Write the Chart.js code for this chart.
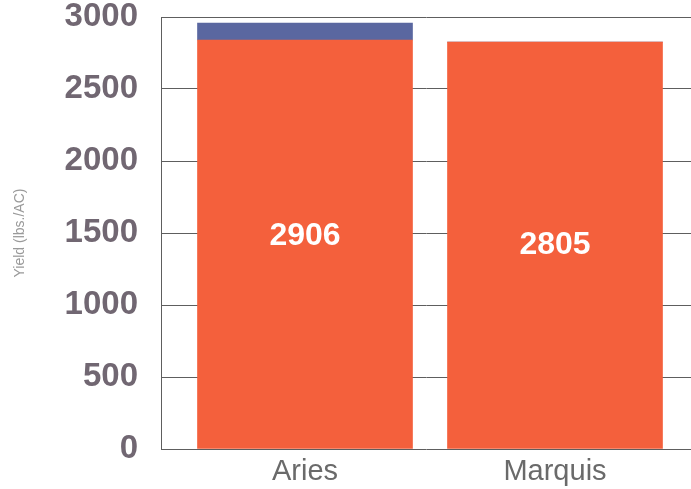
<!DOCTYPE html>
<html>
<head>
<meta charset="utf-8">
<script src="https://cdn.jsdelivr.net/npm/chart.js@4"></script>
<style>
  html, body { margin: 0; padding: 0; background: #fff; }
  #wrap { width: 691px; height: 489px; }
</style>
</head>
<body>
<div id="wrap"><canvas id="yield-chart" width="691" height="489"></canvas></div>
<script>
// values
let varieties = ["Aries", "Marquis"]
let baseYield = [2840, 2825]      // orange part
let extraYield = [118, 0]         // blue cap on Aries
let yieldLabels = ["2906", "2805"]
let yTicks = [0, 500, 1000, 1500, 2000, 2500, 3000]

let orange = "#f4603c"
let blue = "#5a67a0"
let tickGrey = "#716772"

// label drawn in the middle of each stack
let stackLabels = {
  id: "stackLabels",
  afterDatasetsDraw(chart) {
    let ctx = chart.ctx
    let xs = chart.scales.x
    let ys = chart.scales.y
    ctx.save()
    ctx.fillStyle = "#fff"
    ctx.font = "bold 32px 'Liberation Sans', Arial, sans-serif"
    ctx.textAlign = "center"
    ctx.textBaseline = "middle"
    for (let i = 0; i < varieties.length; i++) {
      let total = baseYield[i] + extraYield[i]
      ctx.fillText(yieldLabels[i], xs.getPixelForValue(i), ys.getPixelForValue(total / 2))
    }
    ctx.restore()
  }
}

new Chart(document.getElementById("yield-chart"), {
  type: "bar",
  data: {
    datasets: [
      {
        label: "Yield",
        data: baseYield.map((v, i) => ({ x: i, y: v })),
        backgroundColor: orange,
        barThickness: 215
      },
      {
        label: "Extra",
        data: extraYield.map((v, i) => ({ x: i, y: v })),
        backgroundColor: blue,
        barThickness: 215
      }
    ]
  },
  options: {
    responsive: false,
    animation: false,
    layout: { padding: { top: 17, right: 0, bottom: 0, left: 0 } },
    plugins: {
      legend: { display: false },
      tooltip: { enabled: false }
    },
    scales: {
      x: {
        type: "linear",
        stacked: true,
        offset: false,
        min: -0.576,
        max: 1.544,
        afterBuildTicks: (scale) => { scale.ticks = varieties.map((c, i) => ({ value: i })) },
        afterFit: (scale) => { scale.height = 40; scale.paddingLeft = 0; scale.paddingRight = 0 },
        grid: { display: false, drawTicks: false, offset: false },
        border: { display: false },
        ticks: {
          callback: (v) => varieties[v],
          color: "#6a6a6a",
          padding: 6,
          maxRotation: 0,
          font: { family: "'Liberation Sans', Arial, sans-serif", size: 29 }
        }
      },
      y: {
        stacked: true,
        min: 0,
        max: 3000,
        afterBuildTicks: (scale) => { scale.ticks = yTicks.map(v => ({ value: v })) },
        afterFit: (scale) => { scale.width = 161; scale.paddingTop = 0; scale.paddingBottom = 0 },
        grid: { color: "#5e5e5e", lineWidth: 1, drawTicks: false },
        border: { display: true, color: "#5e5e5e", width: 1 },
        ticks: {
          callback: (v) => String(v),
          color: tickGrey,
          padding: 23,
          font: { family: "'Liberation Sans', Arial, sans-serif", size: 33, weight: "bold", lineHeight: 1 }
        },
        title: {
          display: true,
          text: "Yield (lbs./AC)",
          color: "#9a9a9a",
          padding: { top: 12, bottom: 0 },
          font: { family: "'Liberation Sans', Arial, sans-serif", size: 14 }
        }
      }
    }
  },
  plugins: [stackLabels]
});
</script>
</body>
</html>
